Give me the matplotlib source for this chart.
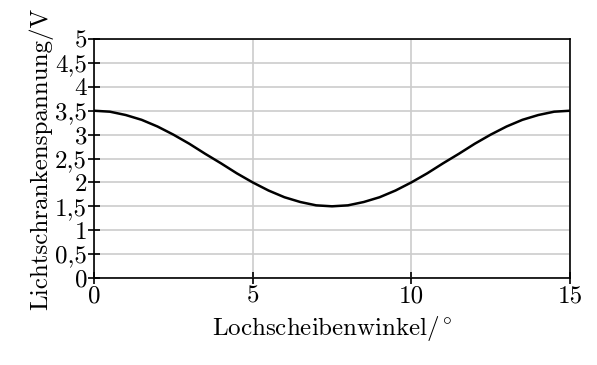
import matplotlib
matplotlib.use('Agg')
import matplotlib.pyplot as plt

# values
winkel = [0, 0.5, 1, 1.5, 2, 2.5, 3, 3.5, 4, 4.5, 5, 5.5, 6, 6.5, 7, 7.5,
          8, 8.5, 9, 9.5, 10, 10.5, 11, 11.5, 12, 12.5, 13, 13.5, 14, 14.5, 15]
spannung = [3.5, 3.48, 3.41, 3.31, 3.17, 3.0, 2.81, 2.6, 2.4, 2.19, 2.0, 1.83, 1.69, 1.59, 1.52, 1.5,
            1.52, 1.59, 1.69, 1.83, 2.0, 2.19, 2.4, 2.6, 2.81, 3.0, 3.17, 3.31, 3.41, 3.48, 3.5]

yticks = [0, 0.5, 1, 1.5, 2, 2.5, 3, 3.5, 4, 4.5, 5]
ylabels = ['0', '0,5', '1', '1,5', '2', '2,5', '3', '3,5', '4', '4,5', '5']
xticks = [0, 5, 10, 15]

plt.rcParams['font.family'] = 'cmr10'
plt.rcParams['mathtext.fontset'] = 'cm'
plt.rcParams['axes.unicode_minus'] = False

fig = plt.figure(figsize=(5.97, 3.65), dpi=100)
ax = fig.add_axes([0.1575, 0.2384, 0.7973, 0.6546])

ax.plot(winkel, spannung, color='black', linewidth=1.8, solid_joinstyle='round')
ax.set_xlim(0, 15)
ax.set_ylim(0, 5)
ax.set_xticks(xticks)
ax.set_xticklabels([str(t) for t in xticks])
ax.set_yticks(yticks)
ax.set_yticklabels(ylabels)
ax.grid(True, color='#cccccc', linewidth=1.2)
ax.set_axisbelow(True)
ax.tick_params(direction='inout', length=8, width=1.2, labelsize=18, pad=1)
for s in ax.spines.values():
    s.set_linewidth(1.2)

ax.set_xlabel('Lochscheibenwinkel$/^{\\circ}$', fontsize=18, labelpad=5)
ax.set_ylabel('Lichtschrankenspannung/V', fontsize=18, labelpad=1)

fig.savefig('out.png', dpi=100)
